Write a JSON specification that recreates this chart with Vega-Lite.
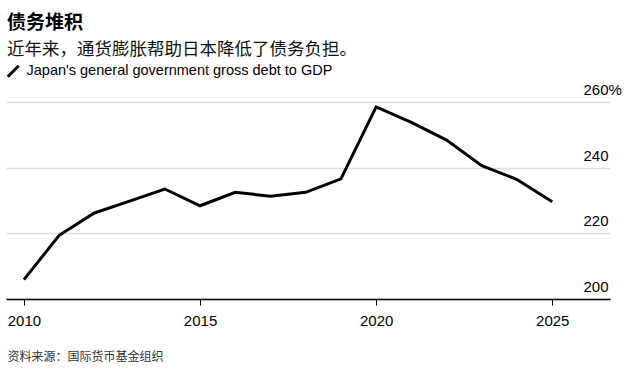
{
  "$schema": "https://vega.github.io/schema/vega-lite/v6.json",
  "width": 604,
  "height": 197,
  "autosize": {"type": "none"},
  "padding": {"left": 6, "top": 102, "right": 19, "bottom": 71},
  "background": "white",
  "config": {"view": {"stroke": null}},
  "title": {
    "text": "债务堆积",
    "subtitle": "近年来，通货膨胀帮助日本降低了债务负担。",
    "anchor": "start",
    "frame": "group",
    "orient": "top",
    "offset": 6,
    "dx": 1,
    "font": "Noto Sans CJK SC",
    "fontSize": 19,
    "fontWeight": "bold",
    "color": "#000000",
    "subtitleFont": "Noto Sans CJK SC",
    "subtitleFontSize": 17.5,
    "subtitleColor": "#111111",
    "subtitlePadding": 8
  },
  "data": {
    "values": [
      {"year": 2010, "debt": 205.9, "series": "Japan's general government gross debt to GDP"},
      {"year": 2011, "debt": 219.4, "series": "Japan's general government gross debt to GDP"},
      {"year": 2012, "debt": 226.2, "series": "Japan's general government gross debt to GDP"},
      {"year": 2013, "debt": 229.8, "series": "Japan's general government gross debt to GDP"},
      {"year": 2014, "debt": 233.5, "series": "Japan's general government gross debt to GDP"},
      {"year": 2015, "debt": 228.4, "series": "Japan's general government gross debt to GDP"},
      {"year": 2016, "debt": 232.5, "series": "Japan's general government gross debt to GDP"},
      {"year": 2017, "debt": 231.3, "series": "Japan's general government gross debt to GDP"},
      {"year": 2018, "debt": 232.5, "series": "Japan's general government gross debt to GDP"},
      {"year": 2019, "debt": 236.6, "series": "Japan's general government gross debt to GDP"},
      {"year": 2020, "debt": 258.5, "series": "Japan's general government gross debt to GDP"},
      {"year": 2021, "debt": 253.8, "series": "Japan's general government gross debt to GDP"},
      {"year": 2022, "debt": 248.4, "series": "Japan's general government gross debt to GDP"},
      {"year": 2023, "debt": 240.6, "series": "Japan's general government gross debt to GDP"},
      {"year": 2024, "debt": 236.4, "series": "Japan's general government gross debt to GDP"},
      {"year": 2025, "debt": 229.6, "series": "Japan's general government gross debt to GDP"}
    ]
  },
  "mark": {"type": "line", "strokeWidth": 3, "strokeJoin": "miter"},
  "encoding": {
    "x": {
      "field": "year",
      "type": "quantitative",
      "scale": {"domain": [2009.49, 2026.64], "nice": false, "zero": false},
      "axis": {
        "values": [2010, 2015, 2020, 2025],
        "format": "d",
        "grid": false,
        "domain": true,
        "domainColor": "#000000",
        "domainWidth": 1.5,
        "ticks": true,
        "tickColor": "#000000",
        "tickSize": 6,
        "tickWidth": 1,
        "labelPadding": 8,
        "labelFont": "Liberation Sans",
        "labelFontSize": 15,
        "labelColor": "#000000",
        "title": "资料来源：国际货币基金组织",
        "titleFont": "Noto Sans CJK SC",
        "titleFontSize": 12,
        "titleFontWeight": "normal",
        "titleColor": "#333333",
        "titleAnchor": "start",
        "titleAlign": "left",
        "titleBaseline": "alphabetic",
        "titleX": 1,
        "titleY": 61
      }
    },
    "y": {
      "field": "debt",
      "type": "quantitative",
      "scale": {"domain": [200, 260], "nice": false, "zero": false},
      "axis": {
        "orient": "right",
        "values": [200, 220, 240, 260],
        "labelExpr": "datum.value == 260 ? '260%' : datum.label",
        "domain": false,
        "ticks": false,
        "tickSize": 0,
        "grid": true,
        "gridColor": "#dedede",
        "gridWidth": 1.5,
        "labelAlign": "left",
        "labelPadding": -27,
        "labelBaseline": "alphabetic",
        "labelOffset": -7.5,
        "labelFont": "Liberation Sans",
        "labelFontSize": 15,
        "labelColor": "#000000",
        "title": null
      }
    },
    "color": {
      "field": "series",
      "type": "nominal",
      "scale": {"range": ["#000000"]},
      "legend": {
        "orient": "none",
        "legendX": 0,
        "legendY": -38,
        "title": null,
        "symbolType": "M -1 1 L 1 -1",
        "symbolSize": 120,
        "symbolStrokeWidth": 3,
        "symbolStrokeColor": "#000000",
        "labelFont": "Liberation Sans",
        "labelFontSize": 14.5,
        "labelLimit": 0,
        "labelColor": "#000000",
        "labelOffset": 6,
        "padding": 0
      }
    }
  }
}
